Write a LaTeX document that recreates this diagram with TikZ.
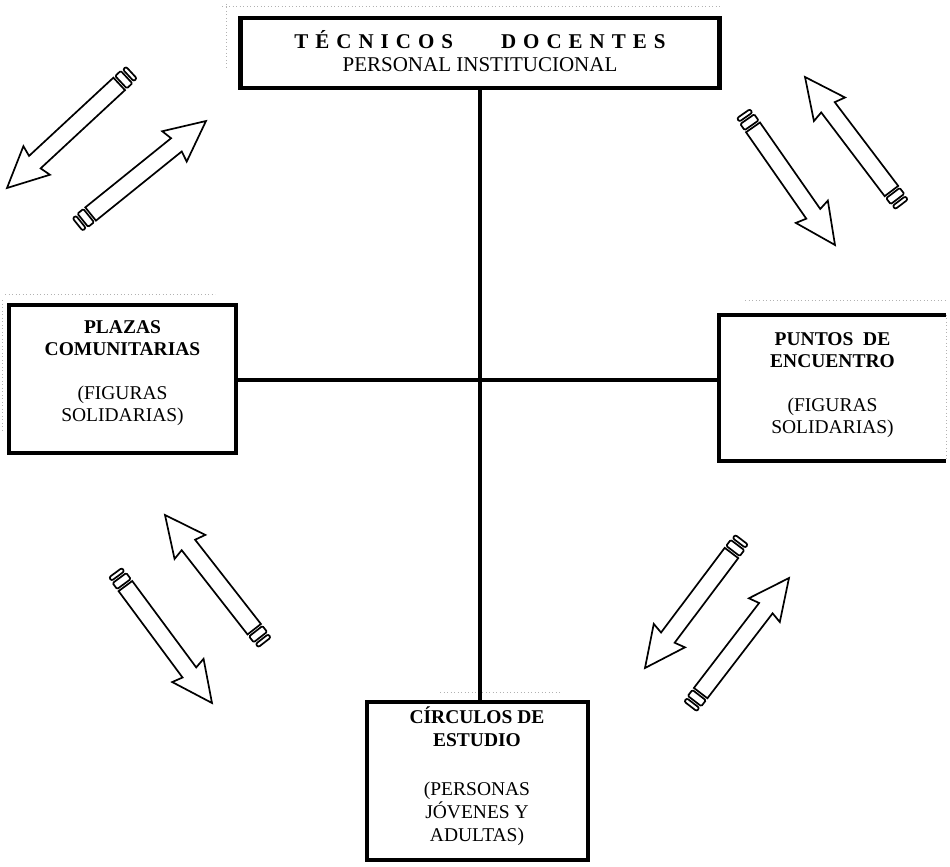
\documentclass[tikz,border=0pt]{standalone}
\usepackage{fontspec}
\setmainfont{Liberation Serif}
\usetikzlibrary{calc}

\begin{document}
\begin{tikzpicture}[x=1pt,y=-1pt,
  frame/.style={draw=black, line width=3.6pt, inner sep=0pt},
  heavyframe/.style={draw=black, line width=4.8pt, inner sep=0pt},
  link/.style={draw=black, line width=3.8pt},
  arrowline/.style={draw=black, line width=1.7pt, fill=white, line join=miter},
  boxtext/.style={align=center, inner sep=0pt, anchor=north,
    font=\fontsize{19.5}{22}\selectfont},
  noise/.style={draw=black!30, line width=0.9pt, dash pattern=on 0.9pt off 2.6pt},
  % hollow block arrow with two bands at the tail; #1 = length
  barrow/.pic={
    \def\L{#1}
    \draw[arrowline, rounded corners=2pt] (0.8,-8) rectangle (5,8);
    \draw[arrowline, rounded corners=1.2pt] (7.5,-8.5) rectangle (15,8.5);
    \draw[arrowline] (17.5,-8.5) -- ({\L-38},-8.5) -- ({\L-40.5},-19.5) -- (\L,0)
      -- ({\L-40.5},19.5) -- ({\L-38},8.5) -- (17.5,8.5) -- cycle;
  }
]
\useasboundingbox (0,0) rectangle (950,867);

\newcommand\blockarrow[2]{%
  \path let \p1=(#1), \p2=(#2),
    \n1={atan2(\y2-\y1,\x2-\x1)}, \n2={veclen(\x2-\x1,\y2-\y1)} in
    (\p1) pic[rotate=\n1] {barrow=\n2};}

% scan speckle along the box edges
\draw[noise] (222,6) -- (722,6);
\draw[noise] (226,4) -- (226,70);
\draw[noise] (5,294) -- (215,294);
\draw[noise] (2,300) -- (2,430);
\draw[noise] (745,300) -- (946,300);
\draw[noise] (440,692) -- (560,692);

% boxes
\node[heavyframe, minimum width=479pt, minimum height=70pt] (tecnicos) at (480,53) {};
\node[frame, minimum width=227pt, minimum height=148pt] (plazas) at (122.5,379) {};
\node[minimum width=227pt, minimum height=146pt, inner sep=0pt] (encuentro) at (832.5,388) {};
\draw[black, line width=3.6pt] (encuentro.north east) -- (encuentro.north west)
  -- (encuentro.south west) -- (encuentro.south east);
\draw[noise] (encuentro.north east) -- (encuentro.south east);
\node[frame, minimum width=221pt, minimum height=158pt] (circulos) at (477.5,781) {};

% texts
\node[boxtext, font=\fontsize{21}{23}\selectfont] (tecnicostext) at (480,30)
  {{\bfseries T\kern7pt É\kern7pt C\kern7pt N\kern7pt I\kern7pt C\kern7pt O\kern7pt S\hspace{48pt}D\kern7pt O\kern7pt C\kern7pt E\kern7pt N\kern7pt T\kern7pt E\kern7pt S}\\
   PERSONAL INSTITUCIONAL};
\node[boxtext] (plazastext) at (122.5,320)
  {{\bfseries PLAZAS}\\{\bfseries COMUNITARIAS}\\[22pt](FIGURAS\\SOLIDARIAS)};
\node[boxtext] (encuentrotext) at (832.5,332)
  {{\bfseries PUNTOS\ \ DE}\\{\bfseries ENCUENTRO}\\[22pt](FIGURAS\\SOLIDARIAS)};
\node[boxtext, font=\fontsize{19.5}{23}\selectfont] (circulostext) at (477,707)
  {{\bfseries CÍRCULOS DE}\\{\bfseries ESTUDIO}\\[26pt](PERSONAS\\JÓVENES Y\\ADULTAS)};

% connecting lines
\coordinate (hub) at (480,380);
\draw[link] (plazas.east |- hub) -- (encuentro.west |- hub);
\draw[link] (tecnicos.south) -- (tecnicos.south |- circulos.north);

% band-tailed arrows: tail, tip
\coordinate (a1tail) at (132,72);  \coordinate (a1tip) at (7,188);
\coordinate (a2tail) at (77,225);  \coordinate (a2tip) at (206,121);
\coordinate (b1tail) at (743,113); \coordinate (b1tip) at (835,245);
\coordinate (b2tail) at (902,205); \coordinate (b2tip) at (805,77);
\coordinate (c1tail) at (265,643); \coordinate (c1tip) at (165,515);
\coordinate (c2tail) at (115,572); \coordinate (c2tip) at (212,703);
\coordinate (d1tail) at (742,539); \coordinate (d1tip) at (645,668);
\coordinate (d2tail) at (690,707); \coordinate (d2tip) at (789,578);
\blockarrow{a1tail}{a1tip}
\blockarrow{a2tail}{a2tip}
\blockarrow{b1tail}{b1tip}
\blockarrow{b2tail}{b2tip}
\blockarrow{c1tail}{c1tip}
\blockarrow{c2tail}{c2tip}
\blockarrow{d1tail}{d1tip}
\blockarrow{d2tail}{d2tip}
\end{tikzpicture}
\end{document}
